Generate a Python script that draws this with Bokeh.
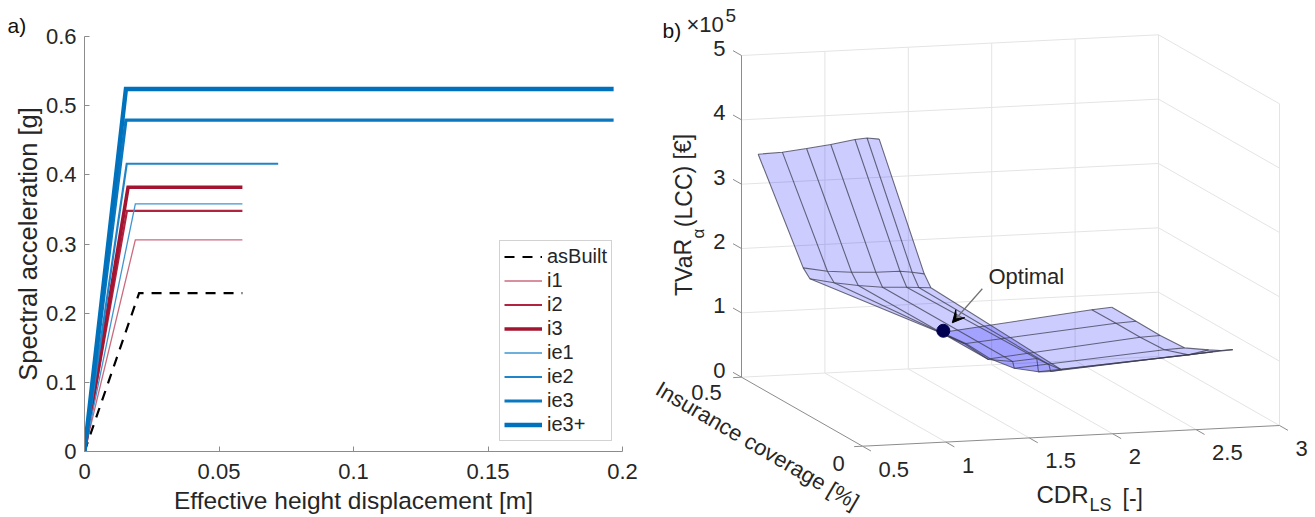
from bokeh.plotting import figure
from bokeh.layouts import row
from bokeh.models import Range1d, Legend, LegendItem, Label, FixedTicker, Arrow, VeeHead, Title
from bokeh.embed import file_html
from bokeh.resources import INLINE

# ---------- panel a data ----------
names = ["asBuilt", "i1", "i2", "i3", "ie1", "ie2", "ie3", "ie3+"]
yield_disp = [0.0203, 0.0189, 0.0158, 0.0162, 0.0189, 0.0157, 0.0154, 0.0154]
yield_acc = [0.229, 0.306, 0.348, 0.382, 0.358, 0.416, 0.479, 0.524]
ultimate_disp = [0.0587, 0.0587, 0.0587, 0.0587, 0.0587, 0.072, 0.1967, 0.1967]
a_colors = ["#000000", "#cb6b7e", "#b0243f", "#a2142f", "#3f95d2", "#2085c8", "#0a78c0", "#0072bd"]
a_widths = [2.2, 1.3, 2.2, 3.6, 1.3, 2.2, 3.2, 4.4]
a_xticks = [0, 0.05, 0.1, 0.15, 0.2]
a_yticks = [0, 0.1, 0.2, 0.3, 0.4, 0.5, 0.6]

# ---------- panel b data (1e5 EUR) ----------
cdr_rows = [0.6, 0.87, 0.91, 1.69, 1.7, 2.6, 2.72]
ins_cols = [0.5, 0.4, 0.3, 0.2, 0.1, 0.05, 0.0]
tvar_r0 = [3.453, 3.699, 3.971, 4.248, 4.54, 4.67, 4.76]
tvar_r1 = [1.652, 1.814, 2.013, 2.227, 2.457, 2.548, 2.631]
tvar_r2 = [1.477, 1.629, 1.801, 1.989, 2.203, 2.306, 2.409]
tvar_r3 = [0.541, 0.584, 0.552, 0.735, 0.996, 1.01, 1.04]
tvar_r4 = [0.541, 0.584, 0.561, 0.629, 0.787, 0.90, 1.04]
tvar_r5 = [0.777, 0.783, 0.780, 0.799, 0.935, 1.066, 1.196]
tvar_r6 = [0.802, 0.799, 0.791, 0.814, 0.997, 1.094, 1.216]
tvar = [tvar_r0, tvar_r1, tvar_r2, tvar_r3, tvar_r4, tvar_r5, tvar_r6]
cdr_ticks = [0.5, 1, 1.5, 2, 2.5, 3]
ins_ticks = [0.5, 0]
z_ticks = [0, 1, 2, 3, 4, 5]
opt_cdr, opt_ins, opt_z = 1.71, 0.5, 0.566

FONT = "Liberation Sans"
TXT = "#262626"
AX = "#8c8c8c"

# ---------- panel a ----------
p1 = figure(width=644, height=516, output_backend="svg", toolbar_location=None,
            x_range=Range1d(0, 0.2), y_range=Range1d(0, 0.6), frame_align=False,
            title=Title(text="a)", text_font=FONT, text_font_size="21px", text_font_style="normal",
                        text_color="#111111", align="left", offset=-77, standoff=0),
            min_border_left=84, min_border_right=22, min_border_top=36, min_border_bottom=62)
p1.grid.visible = False
p1.outline_line_color = None
renderers = []
for i, nm in enumerate(names):
    r = p1.line([0, yield_disp[i], ultimate_disp[i]], [0, yield_acc[i], yield_acc[i]],
                line_color=a_colors[i], line_width=a_widths[i],
                line_dash="10 8" if i == 0 else "solid", line_join="miter")
    renderers.append(r)
for ax, tk, lab, lsize in ((p1.xaxis[0], a_xticks, "Effective height displacement [m]", "24.5px"),
                           (p1.yaxis[0], a_yticks, "Spectral acceleration [g]", "25.5px")):
    ax.ticker = FixedTicker(ticks=tk)
    ax.major_label_overrides = {t: f"{t:g}" for t in tk}
    ax.axis_label = lab
    ax.axis_label_text_font = FONT
    ax.axis_label_text_font_size = lsize
    ax.axis_label_text_font_style = "normal"
    ax.axis_label_text_color = TXT
    ax.major_label_text_font = FONT
    ax.major_label_text_font_size = "22px"
    ax.major_label_text_color = TXT
    ax.axis_line_color = AX
    ax.major_tick_line_color = AX
    ax.major_tick_in = 5
    ax.major_tick_out = 0
    ax.minor_tick_line_color = None
p1.xaxis[0].axis_label_standoff = 5
p1.yaxis[0].axis_label_standoff = 1
p1.yaxis[0].major_label_standoff = 8
p1.xaxis[0].major_label_standoff = 12
leg = Legend(items=[LegendItem(label=n, renderers=[r]) for n, r in zip(names, renderers)],
             location=(415, 10), orientation="vertical", margin=0, padding=4, spacing=1,
             glyph_width=38, glyph_height=23, label_height=23, label_standoff=5,
             label_text_font=FONT, label_text_font_size="20px", label_text_color=TXT,
             border_line_color="#a6a6a6", border_line_width=1, background_fill_color="white",
             background_fill_alpha=1)
p1.add_layout(leg, "center")

# ---------- panel b : a view projection of the 3D axes ----------
O_X, O_Y = 862.0, 445.7     # screen point of cdr=0.5, ins=0, z=0
CDR_X, CDR_Y = 166.8, -8.28
INS_X, INS_Y = -242.0, -138.0
Z_Y = -64.34


def proj(c, i, z):
    return (O_X + (c - 0.5) * CDR_X + i * INS_X, O_Y + (c - 0.5) * CDR_Y + i * INS_Y + z * Z_Y)


def seg(a, b):
    pa, pb = proj(*a), proj(*b)
    return [pa[0], pb[0]], [pa[1], pb[1]]


p2 = figure(width=666, height=516, output_backend="svg", toolbar_location=None,
            x_range=Range1d(644, 1310), y_range=Range1d(516, 0), frame_align=False,
            x_axis_type=None, y_axis_type=None,
            min_border_left=0, min_border_right=0, min_border_top=0, min_border_bottom=0)
p2.grid.visible = False
p2.outline_line_color = None

# grid
gx, gy = [], []
cmin, cmax, imin, imax, zmin, zmax = 0.5, 3, 0, 0.5, 0, 5
for c in cdr_ticks[1:]:
    for a, b in (((c, imax, zmin), (c, imax, zmax)), ((c, imin, zmin), (c, imax, zmin))):
        x, y = seg(a, b); gx.append(x); gy.append(y)
for z in z_ticks[1:]:
    for a, b in (((cmin, imax, z), (cmax, imax, z)), ((cmax, imax, z), (cmax, imin, z))):
        x, y = seg(a, b); gx.append(x); gy.append(y)
x, y = seg((cmin, imax, 0), (cmax, imax, 0)); gx.append(x); gy.append(y)
x, y = seg((cmax, imin, 0), (cmax, imin, zmax)); gx.append(x); gy.append(y)
p2.multi_line(gx, gy, line_color="#e4e4e4", line_width=1)

# surface
qx, qy, lx, ly = [], [], [], []
for r in range(len(cdr_rows) - 1):
    for k in range(len(ins_cols) - 1):
        pts = [proj(cdr_rows[r], ins_cols[k], tvar[r][k]), proj(cdr_rows[r], ins_cols[k + 1], tvar[r][k + 1]),
               proj(cdr_rows[r + 1], ins_cols[k + 1], tvar[r + 1][k + 1]), proj(cdr_rows[r + 1], ins_cols[k], tvar[r + 1][k])]
        qx.append([q[0] for q in pts]); qy.append([q[1] for q in pts])
p2.patches(qx, qy, fill_color="#0000ff", fill_alpha=0.2, line_color=None)
for r in range(len(cdr_rows)):
    pts = [proj(cdr_rows[r], ins_cols[k], tvar[r][k]) for k in range(len(ins_cols))]
    lx.append([q[0] for q in pts]); ly.append([q[1] for q in pts])
for k in range(len(ins_cols)):
    pts = [proj(cdr_rows[r], ins_cols[k], tvar[r][k]) for r in range(len(cdr_rows))]
    lx.append([q[0] for q in pts]); ly.append([q[1] for q in pts])
p2.multi_line(lx, ly, line_color="#3c3c50", line_alpha=0.75, line_width=1.1)

# axes
ax_x, ax_y = [], []
for a, b in (((cmin, imax, zmin), (cmin, imax, zmax)), ((cmin, imax, 0), (cmin, imin, 0)), ((cmin, imin, 0), (cmax, imin, 0))):
    x, y = seg(a, b); ax_x.append(x); ax_y.append(y)
for c in cdr_ticks:
    x, y = seg((c, imin, 0), (c, imin - 0.035, 0)); ax_x.append(x); ax_y.append(y)
for z in z_ticks:
    x, y = seg((cmin, imax, z), (cmin, imax + 0.035, z)); ax_x.append(x); ax_y.append(y)
for i in ins_ticks:
    x, y = seg((cmin, i, 0), (cmin - 0.05, i, 0)); ax_x.append(x); ax_y.append(y)
p2.multi_line(ax_x, ax_y, line_color=AX, line_width=1)


def txt(x, y, s, size="22px", angle=0.0, align="center", color=TXT):
    p2.add_layout(Label(x=x, y=y, text=s, text_font=FONT, text_font_size=size, text_color=color,
                        angle=angle, text_align=align, text_baseline="middle"))


for z in z_ticks:
    px, py = proj(cmin, imax, z)
    txt(px - 16, py - 7, f"{z:g}", align="right")
for c in cdr_ticks:
    px, py = proj(c, imin, 0)
    txt(px + 16, py + 23, f"{c:g}", align="left")
for i, dx, dy in ((0.5, -35, 15), (0, -24, 17)):
    px, py = proj(cmin, i, 0)
    txt(px + dx, py + dy, f"{i:g}")

txt(662, 30, "b)", size="21px", align="left", color="#111111")
txt(686, 24, "×10", size="22px", align="left")
txt(725, 15, "5", size="19px", align="left")
txt(683, 267, "TVaR", size="23px", angle=1.5708)
txt(698, 233, "α", size="17px", angle=1.5708)
txt(683, 180, "(LCC) [€]", size="23px", angle=1.5708)
txt(757, 445, "Insurance coverage [%]", size="22px", angle=-0.53)
txt(1036, 494, "CDR", size="24px", align="left")
txt(1089, 504, "LS", size="18px", align="left")
txt(1122, 497, "[-]", size="23px", align="left")

# optimal point
ox, oy = proj(opt_cdr, opt_ins, opt_z)
p2.add_layout(Arrow(end=VeeHead(size=12, fill_color="black", line_color="black"),
                    x_start=ox + 39, y_start=oy - 42, x_end=ox + 9, y_end=oy - 8,
                    line_color="#707070", line_width=1.2))
p2.scatter([ox], [oy], size=13, fill_color="#000050", line_color="#000050")
txt(ox + 83, oy - 54, "Optimal", size="22px")

layout = row(p1, p2, spacing=0)
open("out.html", "w").write(file_html(layout, INLINE))
